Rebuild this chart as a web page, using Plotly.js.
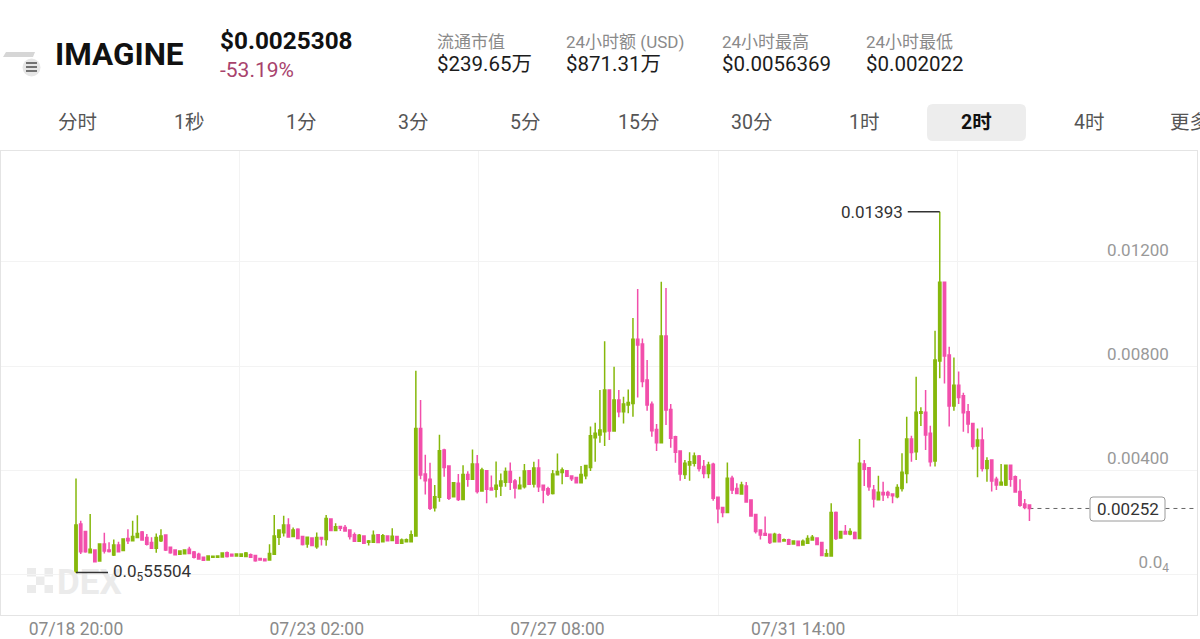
<!DOCTYPE html>
<html><head><meta charset="utf-8">
<script src="https://cdn.plot.ly/plotly-3.0.1.min.js"></script>
<style>html,body{margin:0;padding:0;background:#fff;overflow:hidden}</style>
</head><body><div id="chart" style="width:1200px;height:639px"></div>
<script>
// prices in units of 0.00001 USD
const opens=[5.55,192,163,82,92,50,115,92,73,112,90,137,128,140,162,140,121,99,128,150,
103,92,76,78,95,85,76,64,54,64,64,65,82,76,69,68,67,74,71,60,
58,54,76,141,159,188,144,172,144,115,138,105,140,133,212,167,183,179,169,151,
126,146,122,122,151,124,146,129,144,118,124,124,146,560,385,364,255,295,477,415,
297,349,287,383,364,423,319,397,331,326,338,353,394,358,328,336,397,346,408,341,
328,310,382,390,397,377,371,351,378,410,524,535,547,708,550,669,624,650,656,903,
885,746,653,556,505,915,633,528,473,383,419,426,454,413,387,422,295,256,237,368,
329,308,338,285,229,169,156,153,124,151,127,132,115,126,112,118,131,138,121,69,
69,237,138,163,154,160,137,423,409,323,286,313,313,308,297,329,387,519,470,618,
622,541,435,819,1122,842,646,726,686,624,579,492,515,406,438,364,342,342,418,374,
317,269,265];
const highs=[367,205,163,231,92,115,159,122,133,124,135,172,205,226,165,154,141,156,172,153,
105,95,91,95,105,88,82,67,72,68,71,83,87,77,78,78,85,79,73,62,
59,114,227,172,224,214,179,176,146,144,141,160,141,227,214,195,185,188,172,160,
154,149,131,167,154,154,147,176,146,137,137,167,782,669,459,428,342,536,482,415,
353,385,418,395,479,458,409,397,379,433,387,410,429,365,374,423,400,432,441,344,
336,400,463,410,399,379,373,415,418,567,582,708,895,708,797,708,682,710,985,1096,
906,823,663,577,1124,1100,654,532,476,438,468,467,458,438,432,428,297,258,429,378,
349,355,354,287,232,172,221,155,159,156,137,136,129,128,133,149,150,141,123,95,
272,240,165,188,176,163,519,438,412,342,378,355,320,310,345,464,605,532,759,641,
708,570,936,1393,1122,874,833,779,697,654,582,560,563,449,441,374,423,420,420,379,
364,288,267];
const lows=[5.55,77,82,79,44,47,79,83,69,83,88,115,127,138,128,110,96,82,123,88,
78,73,74,76,77,60,56,51,51,64,64,64,63,68,68,67,64,62,47,53,
50,53,73,112,144,140,142,135,110,101,108,97,110,109,165,165,165,164,133,124,
124,116,110,120,119,122,126,128,116,117,123,123,144,364,306,246,240,278,374,285,
295,281,285,336,362,310,317,272,321,294,300,336,323,290,326,329,342,333,315,272,
300,306,381,345,374,358,350,350,364,396,432,505,492,515,548,603,579,618,605,679,
718,628,528,473,503,573,486,428,359,365,359,413,394,368,368,282,195,218,235,308,
308,306,275,221,156,133,146,115,123,123,124,113,114,109,109,117,130,112,69,68,
67,131,137,152,149,136,136,338,320,256,284,281,291,272,291,317,349,432,438,569,
477,413,413,753,733,567,628,654,547,541,479,372,394,355,317,323,340,338,336,313,
259,249,204];
const closes=[188,86,86,95,47,115,88,87,112,86,135,128,144,156,131,114,99,140,146,92,
82,74,88,92,79,64,58,53,69,68,69,81,67,69,77,77,81,64,51,54,
51,79,146,169,188,142,169,137,113,141,110,140,135,213,167,182,176,165,144,126,
149,118,127,149,121,147,128,145,118,131,132,151,560,381,359,253,297,474,410,291,
351,287,383,364,423,317,400,326,323,341,358,394,353,331,341,396,345,408,336,323,
308,385,394,400,376,366,351,383,417,532,541,554,708,550,669,624,654,660,903,881,
740,650,551,505,915,631,522,468,385,426,432,454,406,387,419,291,251,237,368,323,
310,342,277,223,163,150,149,121,153,124,132,114,127,110,126,137,141,113,71,78,
237,137,163,154,163,137,426,403,336,288,314,305,304,301,333,391,519,467,622,624,
535,432,823,1122,838,646,726,679,620,577,490,515,406,436,358,342,353,418,364,315,
264,256,252];

const UNIT=0.00001;
const startDate=Date.UTC(2025,6,18,20);
const stepMs=2*3600*1000;
const iso=ms=>new Date(ms).toISOString().slice(0,16).replace('T',' ');
const times=opens.map((_,i)=>iso(startDate+i*stepMs));
const scale=a=>a.map(v=>+(v*UNIT).toFixed(8));

const xTickVals=['2025-07-18 20:00','2025-07-23 02:00','2025-07-27 08:00','2025-07-31 14:00'];
const xGridVals=['2025-07-21 17:25','2025-07-25 22:24','2025-07-30 04:25','2025-08-03 09:25'];
const yTickVals=[0,0.004,0.008,0.012];
const yTickText=['0.0<sub>4</sub>','0.00400','0.00800','0.01200'];
const tabs=[['分时',77],['1秒',189],['1分',301],['3分',413],['5分',525],['15分',638],['30分',751],['1时',864],['4时',1089]];
const stats=[[435,'流通市值','$239.65万'],[564,'24小时额 (USD)','$871.31万'],[720,'24小时最高','$0.0056369'],[864,'24小时最低','$0.002022']];
const FONT='Roboto, "Noto Sans CJK SC", sans-serif';
const L=1,R=1197,T=151,B=615;
const px=p=>(p-L)/(R-L), py=p=>(B-p)/(B-T);
const ann=(x,y,text,size,color,anchor,extra)=>Object.assign({xref:'paper',yref:'paper',x:px(x),y:py(y),text,showarrow:false,
  xanchor:anchor||'left',yanchor:'middle',font:{family:FONT,size,color}},extra||{});

const annotations=[
 ann(53,54,'<b>IMAGINE</b>',31.5,'#111'),
 ann(218,40,'<b>$0.0025308</b>',24.3,'#111'),
 ann(218,70,'-53.19%',21,'#a8426c'),
 ann(976,122,'<b>2时</b>',19.5,'#111','center'),
 ann(1168,122,'更多',19.5,'#555'),
 ann(55,582,'<b>DEX</b>',35,'#ebebeb'),
 ann(1127.5,509,'0.00252',17,'#333','center'),
 {xref:'x',yref:'y',x:times[183],y:0.01393,text:'0.01393',showarrow:true,arrowhead:0,arrowwidth:1.6,arrowcolor:'#333',
  ax:-32,ay:0,xanchor:'right',standoff:0,borderpad:4,font:{family:FONT,size:17,color:'#333'}},
 {xref:'x',yref:'y',x:times[0],y:0.0000555,text:'0.0<sub>5</sub>55504',showarrow:true,arrowhead:0,arrowwidth:1.6,arrowcolor:'#333',
  ax:32,ay:0,xanchor:'left',standoff:0,borderpad:4,font:{family:FONT,size:17,color:'#333'}}
];
tabs.forEach(t=>annotations.push(ann(t[1],122,t[0],19.5,'#555','center')));
stats.forEach(s=>{annotations.push(ann(s[0],42,s[1],17,'#8a8a8a'));annotations.push(ann(s[0],64,s[2],20.5,'#1c1c1c'));});

const rr=(x0,y0,x1,y1,r)=>`M${px(x0+r)},${py(y0)}L${px(x1-r)},${py(y0)}Q${px(x1)},${py(y0)} ${px(x1)},${py(y0+r)}L${px(x1)},${py(y1-r)}Q${px(x1)},${py(y1)} ${px(x1-r)},${py(y1)}L${px(x0+r)},${py(y1)}Q${px(x0)},${py(y1)} ${px(x0)},${py(y1-r)}L${px(x0)},${py(y0+r)}Q${px(x0)},${py(y0)} ${px(x0+r)},${py(y0)}Z`;
const box=(x0,y0,x1,y1,fill,layer)=>({type:'rect',xref:'paper',yref:'paper',x0:px(x0),x1:px(x1),y0:py(y1),y1:py(y0),fillcolor:fill,line:{width:0},layer:layer||'above'});
const seg=(x0,y,x1,c,w)=>({type:'line',xref:'paper',yref:'paper',x0:px(x0),x1:px(x1),y0:py(y),y1:py(y),line:{color:c,width:w}});
const shapes=[
 {type:'path',xref:'paper',yref:'paper',path:rr(927,104,1026,141,6),fillcolor:'#ededed',line:{width:0},layer:'below'},
 {type:'circle',xref:'paper',yref:'paper',x0:px(22.5),x1:px(40.5),y0:py(76.5),y1:py(58.5),fillcolor:'#e6e6e6',line:{width:0}},
 seg(26,63,37,'#555',1.6),seg(26,67,37,'#555',1.6),seg(26,71,37,'#555',1.6),
 {type:'path',xref:'paper',yref:'paper',path:`M${px(6)},${py(52)}L${px(35)},${py(52)}L${px(33)},${py(57)}L${px(3)},${py(57)}Z`,fillcolor:'#d6d6d6',line:{width:0}},
 box(27,568,36,576.5,'#ebebeb','below'),box(44.5,568,53,576.5,'#ebebeb','below'),box(36,576.5,44.5,585,'#ebebeb','below'),
 box(27,585,36,593,'#ebebeb','below'),box(44.5,585,53,593,'#ebebeb','below'),
 {type:'line',xref:'x',yref:'y',x0:times[times.length-1],x1:'2025-08-07 15:00',y0:0.00252,y1:0.00252,line:{color:'#666',width:1,dash:'4px,4px'},layer:'below'},
 {type:'path',xref:'paper',yref:'paper',path:rr(1090,497,1165,521,3),fillcolor:'#fff',line:{color:'#9a9a9a',width:1}}
];

Plotly.newPlot('chart',[{
  type:'candlestick',x:times,open:scale(opens),high:scale(highs),low:scale(lows),close:scale(closes),
  width:stepMs*0.6,whiskerwidth:0,
  increasing:{line:{color:'#86b80c',width:1.5},fillcolor:'#86b80c'},
  decreasing:{line:{color:'#f24fab',width:1.5},fillcolor:'#f24fab'},
  hoverinfo:'skip',showlegend:false
}],{
  width:1200,height:639,margin:{l:L,r:1200-R,t:T,b:639-B,pad:0},
  paper_bgcolor:'#fff',plot_bgcolor:'#fff',showlegend:false,
  font:{family:FONT},
  xaxis:{type:'date',range:['2025-07-17 12:13','2025-08-07 15:00'],rangeslider:{visible:false},
    tickmode:'array',tickvals:xTickVals,tickformat:'%m/%d %H:%M',showgrid:false,zeroline:false,
    minor:{tickmode:'array',tickvals:xGridVals,showgrid:true,gridcolor:'#f3f3f3',gridwidth:1,ticks:''},
    ticks:'',ticklabelstandoff:-2,tickfont:{family:FONT,size:17.5,color:'#8a8a8a'},showline:true,linecolor:'#e4e4e4',linewidth:1,mirror:true,automargin:false},
  yaxis:{side:'right',range:[-0.001577,0.016269],tickmode:'array',tickvals:yTickVals,ticktext:yTickText,
    ticklabelposition:'inside top',ticklabelstandoff:28,ticks:'',showgrid:true,gridcolor:'#f3f3f3',gridwidth:1,zeroline:false,
    tickfont:{family:FONT,size:17,color:'#999'},showline:true,linecolor:'#e4e4e4',linewidth:1,mirror:true,automargin:false},
  annotations,shapes
},{displayModeBar:false,staticPlot:true});
</script></body></html>
